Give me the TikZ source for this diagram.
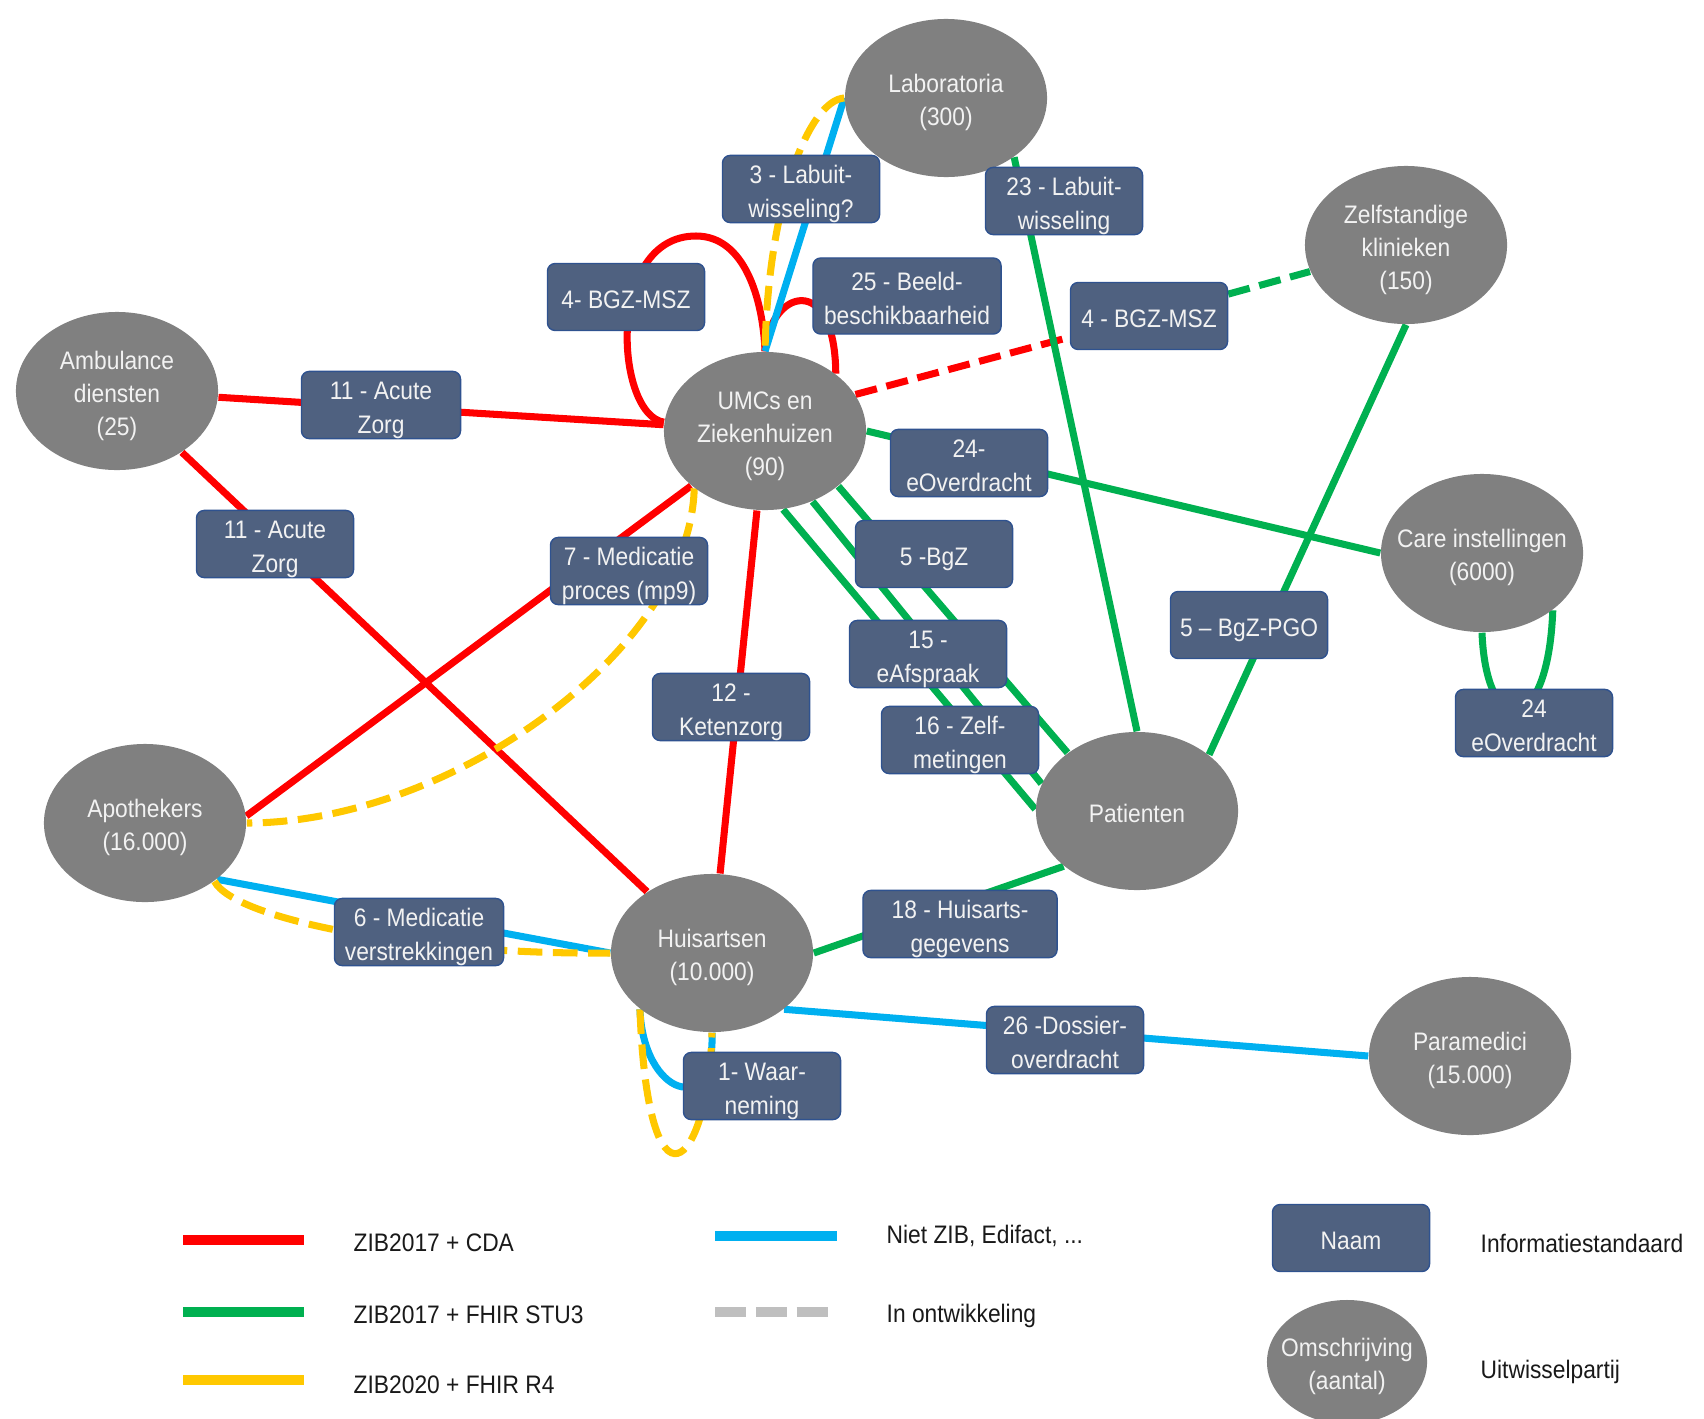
\documentclass[tikz,border=0pt]{standalone}
\usepackage{fontspec}
\setmainfont{Liberation Sans}[FakeStretch=0.9]
\usetikzlibrary{shapes.geometric}
\pgfdeclarelayer{bg}
\pgfsetlayers{bg,main}
\definecolor{zibred}{HTML}{FF0000}
\definecolor{zibgreen}{HTML}{00B050}
\definecolor{zibyellow}{HTML}{FFC800}
\definecolor{zibblue}{HTML}{00B0F0}
\definecolor{devgray}{HTML}{BFBFBF}
\definecolor{boxfill}{HTML}{4F6180}
\definecolor{boxline}{HTML}{2F528F}
\definecolor{partyfill}{HTML}{808080}
\definecolor{lighttext}{HTML}{F2F2F2}
\newcommand{\pptstrut}{\rule{0pt}{8pt}}
\tikzset{
  pptline/.style={execute at begin node={\pptstrut},
    execute at end node={\rule[-1.5pt]{0pt}{1.5pt}}},
  party/.style={ellipse, fill=partyfill, text=lighttext, inner ysep=0pt,
    inner xsep=-4.5pt, minimum width=2.02cm, minimum height=1.58cm, align=center,
    font=\fontsize{7.2}{9.4}\selectfont, pptline},
  standaard/.style={rectangle, rounded corners=2.2pt, fill=boxfill, draw=boxline,
    line width=0.4pt, text=lighttext, inner xsep=1pt, inner ysep=0pt, minimum width=1.57cm,
    minimum height=0.67cm, align=center, font=\fontsize{7.2}{9.6}\selectfont, pptline},
  cda/.style={zibred, line width=2pt},
  stu3/.style={zibgreen, line width=2pt},
  r4/.style={zibyellow, line width=2pt, dash pattern=on 7pt off 3pt},
  edifact/.style={zibblue, line width=2pt},
  ontw/.style={dash pattern=on 6.3pt off 2.8pt},
  legendline/.style={line width=2.85pt},
  uitleg/.style={anchor=west, inner sep=0pt, text=black!90,
    font=\fontsize{7.2}{9.6}\selectfont, pptline}
}
\begin{document}
\begin{tikzpicture}[x=0.01cm,y=-0.01cm]
\useasboundingbox (0,0) rectangle (1704,1418);

\node[party] (lab) at (946,98) {\pptstrut Laboratoria\\(300)};
\node[party] (zelf) at (1406,245) {\pptstrut Zelfstandige\\klinieken\\(150)};
\node[party] (amb) at (117,391) {\pptstrut Ambulance\\diensten\\(25)};
\node[party] (umc) at (765,431) {\pptstrut UMCs en\\Ziekenhuizen\\(90)};
\node[party] (care) at (1482,553) {\pptstrut Care instellingen\\(6000)};
\node[party] (apo) at (145,823) {\pptstrut Apothekers\\(16.000)};
\node[party] (pat) at (1137,811) {Patienten};
\node[party] (huis) at (712,953) {\pptstrut Huisartsen\\(10.000)};
\node[party] (para) at (1470,1056) {\pptstrut Paramedici\\(15.000)};

\node[standaard] (lab3) at (801,189) {\pptstrut 3 - Labuit-\\wisseling?};
\node[standaard] (lab23) at (1064,201) {\pptstrut 23 - Labuit-\\wisseling};
\node[standaard] (bgz4l) at (626,297) {4- BGZ-MSZ};
\node[standaard, minimum width=1.88cm, minimum height=0.76cm] (beeld25) at (907,296) {\pptstrut 25 - Beeld-\\beschikbaarheid};
\node[standaard] (bgz4r) at (1149,316) {4 - BGZ-MSZ};
\node[standaard, minimum width=1.59cm] (acute11a) at (381,405) {\pptstrut 11 - Acute\\Zorg};
\node[standaard] (eov24a) at (969,463) {\pptstrut 24-\\eOverdracht};
\node[standaard] (acute11b) at (275,544) {\pptstrut 11 - Acute\\Zorg};
\node[standaard] (med7) at (629,571) {\pptstrut 7 - Medicatie\\proces (mp9)};
\node[standaard] (bgz5) at (934,554) {5 -BgZ};
\node[standaard] (pgo5) at (1249,625) {5 – BgZ-PGO};
\node[standaard] (afspr15) at (928,654) {\pptstrut 15 -\\eAfspraak};
\node[standaard] (keten12) at (731,707) {\pptstrut 12 -\\Ketenzorg};
\node[standaard] (zelf16) at (960,740) {\pptstrut 16 - Zelf-\\metingen};
\node[standaard] (eov24b) at (1534,723) {\pptstrut 24\\eOverdracht};
\node[standaard, minimum width=1.69cm, minimum height=0.65cm] (med6) at (419,932) {\pptstrut 6 - Medicatie\\verstrekkingen};
\node[standaard, minimum width=1.94cm] (huis18) at (960,924) {\pptstrut 18 - Huisarts-\\gegevens};
\node[standaard] (dos26) at (1065,1040) {\pptstrut 26 -Dossier-\\overdracht};
\node[standaard] (waar1) at (762,1086) {\pptstrut 1- Waar-\\neming};

\begin{pgfonlayer}{bg}
\draw[cda] (amb) -- (umc);
\draw[cda] (amb) -- (huis);
\draw[cda] (apo.4) -- (umc);
\draw[cda] (umc) -- (huis);
\draw[cda] (umc.175) .. controls (615,415) and (605,236) .. (696,236)
  .. controls (745,236) and (763,300) .. (umc.north);
\draw[cda] (umc.north) .. controls (770,290) and (835,270) .. (umc.39);
\draw[cda, ontw] (umc.22) -- (bgz4r);
\draw[stu3, ontw] (bgz4r) -- (zelf);
\draw[stu3] (lab.-41) -- (pat.north);
\draw[stu3] (umc.east) -- (care.west);
\draw[stu3] (umc.-37) -- (pat.140);
\draw[stu3] (umc.-56) -- (pat.164);
\draw[stu3] (umc.-77) -- (pat.179);
\draw[stu3] (zelf.south) -- (pat.38);
\draw[stu3] (care.south) .. controls (1486,740) and (1548,740) .. (care.-39);
\draw[stu3] (pat.-143) -- (huis.east);
\draw[edifact] (lab.west) -- (umc.north);
\draw[r4] (lab.west) .. controls (810,100) and (768,200) .. (umc.north);
\draw[edifact] (apo.-38) -- (huis.west);
\draw[r4] (apo.-40) .. controls (235,920) and (420,955) .. (huis.west);
\draw[edifact] (huis.-38) -- (para.west);
\draw[edifact] (huis.-142) .. controls (643,1095) and (715,1120) .. (huis.south);
\draw[r4] (huis.-142) .. controls (648,1225) and (708,1170) .. (huis.south);
\draw[r4] (umc.-141) .. controls (690,650) and (450,823) .. (apo.east);
\end{pgfonlayer}

\draw[zibred, legendline] (183,1240) -- (304,1240);
\draw[zibgreen, legendline] (183,1312) -- (304,1312);
\draw[zibyellow, legendline] (183,1380) -- (304,1380);
\draw[zibblue, legendline] (715,1236) -- (837,1236);
\draw[devgray, legendline, dash pattern=on 8.8pt off 2.8pt] (715,1312) -- (831,1312);
\node[uitleg] (l1) at (353,1240) {ZIB2017 + CDA};
\node[uitleg] (l2) at (353,1312) {ZIB2017 + FHIR STU3};
\node[uitleg] (l3) at (353,1382) {ZIB2020 + FHIR R4};
\node[uitleg] (l4) at (886,1232) {Niet ZIB, Edifact, ...};
\node[uitleg] (l5) at (886,1311) {In ontwikkeling};
\node[standaard] (naam) at (1351,1238) {Naam};
\node[uitleg] (l6) at (1480,1241) {Informatiestandaard};
\node[party, minimum width=1.6cm, minimum height=1.24cm] (omschr) at (1347,1362) {\pptstrut Omschrijving\\(aantal)};
\node[uitleg] (l7) at (1480,1367) {Uitwisselpartij};
\end{tikzpicture}
\end{document}
